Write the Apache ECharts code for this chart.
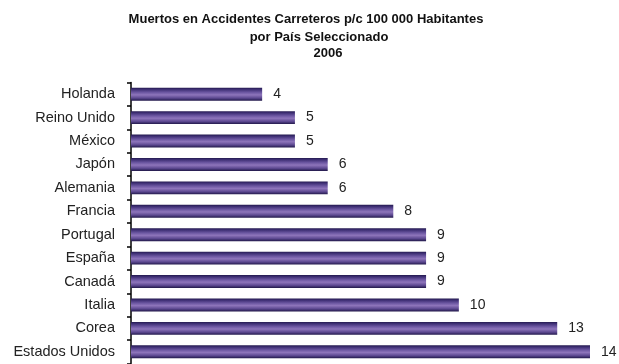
<!DOCTYPE html>
<html>
<head>
<meta charset="utf-8">
<script src="https://cdn.jsdelivr.net/npm/echarts@6/dist/echarts.min.js"></script>
<style>
html,body{margin:0;padding:0;background:#fff;}
#chart{width:619px;height:364px;}
</style>
</head>
<body>
<div id="chart"></div>
<script>
var titleLines = ['Muertos en Accidentes Carreteros p/c 100 000 Habitantes', 'por País Seleccionado', '2006'];
var categories = ['Holanda', 'Reino Unido', 'México', 'Japón', 'Alemania', 'Francia', 'Portugal', 'España', 'Canadá', 'Italia', 'Corea', 'Estados Unidos'];
var values = [4, 5, 5, 6, 6, 8, 9, 9, 9, 10, 13, 14];

var chart = echarts.init(document.getElementById('chart'), null, {renderer: 'canvas'});
var barColor = new echarts.graphic.LinearGradient(0, 0, 0, 1, [
  {offset: 0, color: '#241a4f'},
  {offset: 0.12, color: '#3c2d72'},
  {offset: 0.35, color: '#6a55a0'},
  {offset: 0.55, color: '#8e75bb'},
  {offset: 0.8, color: '#5c4890'},
  {offset: 1, color: '#21184a'}
]);
var titleX = [306, 319, 328];
var titleY = [13, 31, 47];
var fontFam = 'Liberation Sans, Arial, sans-serif';
chart.setOption({
  animation: false,
  backgroundColor: '#ffffff',
  title: titleLines.map(function (t, i) {
    return {
      text: t, left: titleX[i], top: titleY[i], textAlign: 'center', padding: 0,
      textStyle: {fontFamily: fontFam, fontSize: 13, fontWeight: 'bold', color: '#111'}
    };
  }),
  grid: {left: 131, top: 82.5, width: 459, height: 281, containLabel: false},
  xAxis: {
    type: 'value', min: 0, max: 14, show: false
  },
  yAxis: {
    type: 'category',
    data: categories,
    inverse: true,
    axisLine: {show: true, lineStyle: {color: '#000', width: 1.5}},
    axisTick: {show: true, length: 4, inside: false, lineStyle: {color: '#000', width: 1.5}},
    axisLabel: {margin: 16, fontFamily: fontFam, fontSize: 14.5, color: '#222'},
    splitLine: {show: false}
  },
  series: [{
    type: 'bar',
    data: values,
    barCategoryGap: '45%',
    itemStyle: {color: barColor},
    label: {
      show: true, position: 'right', distance: 11,
      fontFamily: fontFam, fontSize: 14, color: '#222'
    }
  }]
});
</script>
</body>
</html>
